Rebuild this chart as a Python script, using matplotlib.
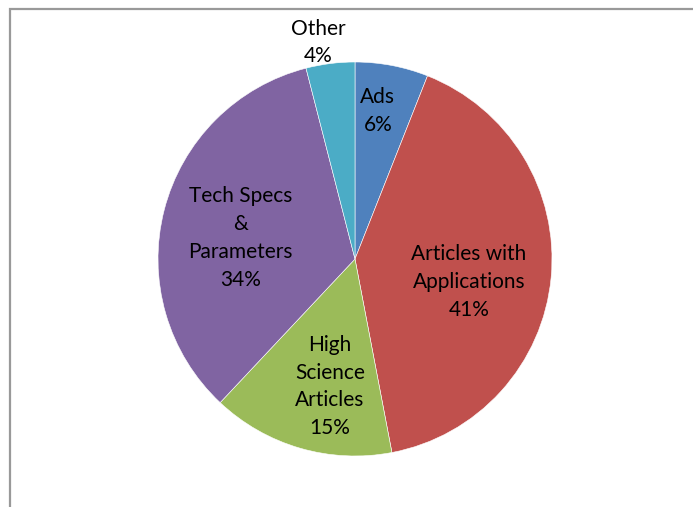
import numpy as np
import matplotlib.pyplot as plt
from matplotlib.patches import Rectangle

labels = ['Ads', 'Articles with\nApplications', 'High\nScience\nArticles',
          'Tech Specs\n&\nParameters', 'Other']
shares = [6, 41, 15, 34, 4]
colors = ['#4F81BD', '#C0504D', '#9BBB59', '#8064A2', '#4BACC6']
# label placement: radius (fraction of pie radius) and angle shift in degrees
label_r = [0.76, 0.59, 0.66, 0.59, 1.115]
label_shift = [2, -6, 5, 4, 2.5]

fig = plt.figure(figsize=(6.93, 5.07), dpi=100)
fig.patches.append(Rectangle((10 / 693, -0.1), 1.1, 1.1 - 9 / 507,
                             transform=fig.transFigure, fill=False,
                             edgecolor='#999999', linewidth=1.6))

ax = fig.add_axes([158 / 693, 51 / 507, 394 / 693, 394 / 507])
wedges, _ = ax.pie(shares, colors=colors, startangle=90, counterclock=False,
                   wedgeprops=dict(edgecolor='white', linewidth=0.4))
ax.set_aspect('equal')
ax.set_xlim(-1, 1)
ax.set_ylim(-1, 1)

for w, lab, val, r, d in zip(wedges, labels, shares, label_r, label_shift):
    ang = np.deg2rad((w.theta1 + w.theta2) / 2 + d)
    ax.text(r * np.cos(ang), r * np.sin(ang), '{}\n{}%'.format(lab, val),
            ha='center', va='center', fontsize=15, family='Lato',
            linespacing=1.48, color='black', clip_on=False)

plt.savefig('out.png', dpi=100)
